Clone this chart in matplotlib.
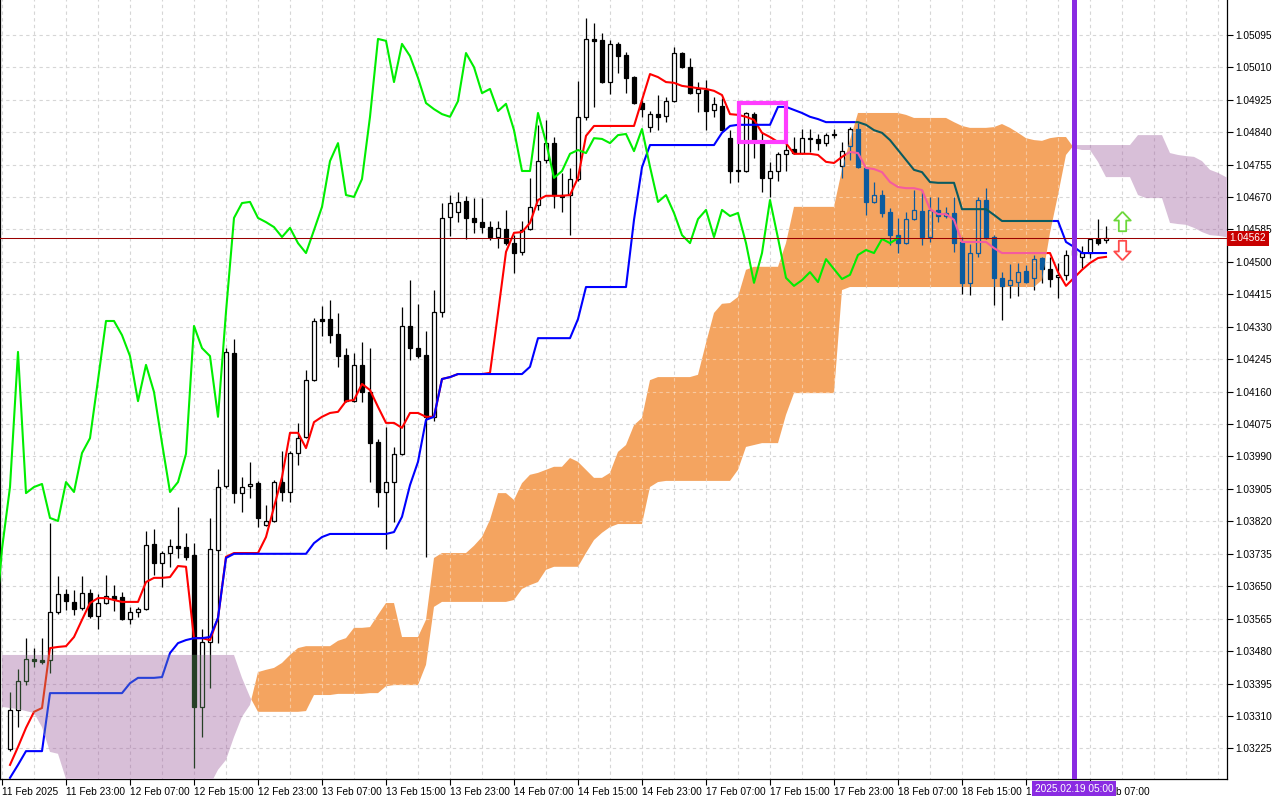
import numpy as np
import matplotlib.pyplot as plt
from matplotlib.path import Path
from matplotlib.patches import PathPatch, Rectangle
from matplotlib.transforms import blended_transform_factory

plt.rcParams['font.family'] = ['Liberation Sans', 'DejaVu Sans']

# hourly bars, bar 0 = 11 Feb 2025 15:00 (weekend gap closed)
first_bar = 1
opens = [1.03224, 1.03326, 1.03402, 1.03459, 1.03457, 1.03457, 1.03583, 1.03630, 1.03609, 1.03593,
         1.03632, 1.03572, 1.03606, 1.03625, 1.03622, 1.03564, 1.03583, 1.03590, 1.03761, 1.03711,
         1.03737, 1.03756, 1.03753, 1.03732, 1.03334, 1.03504, 1.03745, 1.03913, 1.04261, 1.03894,
         1.03913, 1.03921, 1.03811, 1.03821, 1.03923, 1.03897, 1.03999, 1.04041, 1.04190, 1.04350,
         1.04350, 1.04311, 1.04256, 1.04135, 1.04230, 1.04159, 1.04028, 1.03897, 1.03923, 1.03997,
         1.04332, 1.04274, 1.04256, 1.04094, 1.04369, 1.04618, 1.04631, 1.04659, 1.04615, 1.04604,
         1.04591, 1.04565, 1.04586, 1.04549, 1.04526, 1.04586, 1.04649, 1.04767, 1.04811, 1.04675,
         1.04675, 1.04717, 1.04880, 1.05084, 1.05081, 1.04971, 1.05071, 1.05042, 1.04984, 1.04916,
         1.04853, 1.04887, 1.04882, 1.04921, 1.05047, 1.05010, 1.04942, 1.04950, 1.04898, 1.04908,
         1.04824, 1.04741, 1.04738, 1.04887, 1.04814, 1.04720, 1.04738, 1.04783, 1.04796, 1.04785,
         1.04824, 1.04822, 1.04811, 1.04833, 1.04751, 1.04804, 1.04848, 1.04746, 1.04657, 1.04675,
         1.04631, 1.04570, 1.04549, 1.04612, 1.04633, 1.04565, 1.04636, 1.04620, 1.04628, 1.04552,
         1.04445, 1.04523, 1.04662, 1.04565, 1.04458, 1.04439, 1.04447, 1.04476, 1.04458, 1.04510,
         1.04481, 1.04460, 1.04466, 1.04518, 1.04513, 1.04523, 1.04560, 1.04557]
highs = [1.03373, 1.03433, 1.03514, 1.03488, 1.03514, 1.03816, 1.03677, 1.03643, 1.03640, 1.03677,
         1.03643, 1.03630, 1.03680, 1.03653, 1.03635, 1.03596, 1.03596, 1.03795, 1.03800, 1.03742,
         1.03774, 1.03858, 1.03790, 1.03763, 1.03538, 1.03829, 1.03957, 1.04274, 1.04298, 1.03936,
         1.03976, 1.03926, 1.03863, 1.03928, 1.04004, 1.04004, 1.04078, 1.04217, 1.04353, 1.04384,
         1.04400, 1.04366, 1.04274, 1.04261, 1.04290, 1.04274, 1.04036, 1.04067, 1.04015, 1.04382,
         1.04452, 1.04390, 1.04319, 1.04426, 1.04654, 1.04675, 1.04683, 1.04673, 1.04667, 1.04667,
         1.04607, 1.04607, 1.04636, 1.04570, 1.04607, 1.04720, 1.04859, 1.04872, 1.04827, 1.04733,
         1.04746, 1.04974, 1.05139, 1.05126, 1.05100, 1.05081, 1.05076, 1.05050, 1.04987, 1.04924,
         1.04895, 1.04937, 1.04932, 1.05063, 1.05050, 1.05034, 1.04971, 1.04976, 1.04932, 1.04929,
         1.04845, 1.04890, 1.04893, 1.04893, 1.04840, 1.04762, 1.04788, 1.04811, 1.04827, 1.04848,
         1.04848, 1.04835, 1.04838, 1.04848, 1.04814, 1.04853, 1.04864, 1.04749, 1.04709, 1.04688,
         1.04641, 1.04615, 1.04631, 1.04688, 1.04688, 1.04670, 1.04670, 1.04644, 1.04670, 1.04565,
         1.04547, 1.04670, 1.04693, 1.04570, 1.04473, 1.04494, 1.04497, 1.04492, 1.04518, 1.04513,
         1.04513, 1.04497, 1.04531, 1.04549, 1.04542, 1.04562, 1.04612, 1.04594]
lows = [1.03218, 1.03281, 1.03391, 1.03439, 1.03446, 1.03423, 1.03577, 1.03588, 1.03575, 1.03588,
        1.03567, 1.03538, 1.03604, 1.03585, 1.03562, 1.03551, 1.03570, 1.03588, 1.03680, 1.03648,
        1.03701, 1.03724, 1.03719, 1.03174, 1.03255, 1.03383, 1.03501, 1.03907, 1.03868, 1.03845,
        1.03881, 1.03805, 1.03808, 1.03818, 1.03873, 1.03871, 1.03968, 1.04038, 1.04188, 1.04306,
        1.04287, 1.04225, 1.04133, 1.04133, 1.04133, 1.03923, 1.03858, 1.03748, 1.03818, 1.03994,
        1.04243, 1.04248, 1.03727, 1.04083, 1.04356, 1.04568, 1.04604, 1.04560, 1.04576, 1.04576,
        1.04557, 1.04536, 1.04544, 1.04471, 1.04518, 1.04583, 1.04636, 1.04759, 1.04641, 1.04631,
        1.04570, 1.04712, 1.04872, 1.04906, 1.04969, 1.04940, 1.04995, 1.04942, 1.04914, 1.04880,
        1.04840, 1.04845, 1.04866, 1.04919, 1.05008, 1.04940, 1.04893, 1.04845, 1.04880, 1.04843,
        1.04707, 1.04709, 1.04735, 1.04772, 1.04683, 1.04670, 1.04712, 1.04738, 1.04783, 1.04783,
        1.04788, 1.04793, 1.04804, 1.04824, 1.04720, 1.04767, 1.04746, 1.04623, 1.04654, 1.04618,
        1.04544, 1.04523, 1.04547, 1.04610, 1.04544, 1.04552, 1.04604, 1.04615, 1.04526, 1.04416,
        1.04413, 1.04513, 1.04560, 1.04387, 1.04348, 1.04405, 1.04411, 1.04445, 1.04426, 1.04445,
        1.04434, 1.04405, 1.04452, 1.04505, 1.04484, 1.04510, 1.04544, 1.04549]
closes = [1.03326, 1.03402, 1.03459, 1.03454, 1.03452, 1.03583, 1.03630, 1.03611, 1.03590, 1.03632,
          1.03572, 1.03606, 1.03625, 1.03617, 1.03564, 1.03583, 1.03590, 1.03758, 1.03711, 1.03737,
          1.03756, 1.03750, 1.03727, 1.03334, 1.03504, 1.03748, 1.03910, 1.04264, 1.03894, 1.03910,
          1.03918, 1.03829, 1.03821, 1.03923, 1.03897, 1.03999, 1.04038, 1.04190, 1.04345, 1.04345,
          1.04308, 1.04253, 1.04135, 1.04230, 1.04159, 1.04025, 1.03897, 1.03923, 1.03997, 1.04332,
          1.04274, 1.04253, 1.04094, 1.04369, 1.04615, 1.04654, 1.04657, 1.04615, 1.04604, 1.04591,
          1.04565, 1.04589, 1.04549, 1.04523, 1.04583, 1.04644, 1.04764, 1.04811, 1.04675, 1.04670,
          1.04717, 1.04880, 1.05084, 1.05079, 1.04971, 1.05071, 1.05039, 1.04982, 1.04916, 1.04900,
          1.04887, 1.04880, 1.04921, 1.05047, 1.05010, 1.04942, 1.04953, 1.04895, 1.04914, 1.04845,
          1.04738, 1.04738, 1.04890, 1.04814, 1.04720, 1.04738, 1.04783, 1.04793, 1.04785, 1.04824,
          1.04822, 1.04811, 1.04832, 1.04835, 1.04790, 1.04848, 1.04749, 1.04657, 1.04675, 1.04628,
          1.04570, 1.04549, 1.04612, 1.04636, 1.04565, 1.04636, 1.04620, 1.04628, 1.04549, 1.04445,
          1.04523, 1.04662, 1.04562, 1.04458, 1.04437, 1.04452, 1.04473, 1.04447, 1.04507, 1.04481,
          1.04455, 1.04466, 1.04518, 1.04531, 1.04523, 1.04560, 1.04549, 1.04562]

tenkan = [1.03182, 1.03229, 1.03279, 1.03321, 1.03331, 1.03488, 1.03491, 1.03493, 1.03517, 1.03562,
          1.03606, 1.03619, 1.03619, 1.03614, 1.03609, 1.03609, 1.03609, 1.03661, 1.03672, 1.03672,
          1.03674, 1.03703, 1.03701, 1.03514, 1.03514, 1.03509, 1.03567, 1.03727, 1.03737, 1.03737,
          1.03737, 1.03737, 1.03779, 1.03858, 1.03936, 1.04052, 1.04052, 1.04012, 1.04080, 1.04094,
          1.04104, 1.04107, 1.04135, 1.04138, 1.04180, 1.04164, 1.04120, 1.04078, 1.04078, 1.04065,
          1.04104, 1.04104, 1.04094, 1.04094, 1.04193, 1.04198, 1.04206, 1.04206, 1.04206, 1.04206,
          1.04209, 1.04366, 1.04526, 1.04576, 1.04578, 1.04602, 1.04662, 1.04673, 1.04673, 1.04673,
          1.04675, 1.04720, 1.04830, 1.04856, 1.04856, 1.04856, 1.04856, 1.04856, 1.04856, 1.04924,
          1.04992, 1.04984, 1.04971, 1.04969, 1.04961, 1.04958, 1.04955, 1.04953, 1.04948, 1.04937,
          1.04887, 1.04885, 1.04880, 1.04872, 1.04838, 1.04827, 1.04814, 1.04811, 1.04783, 1.04783,
          1.04783, 1.04780, 1.04762, 1.04759, 1.04775, 1.04788, 1.04785, 1.04746, 1.04743, 1.04735,
          1.04709, 1.04696, 1.04693, 1.04693, 1.04688, 1.04638, 1.04625, 1.04625, 1.04610, 1.04552,
          1.04552, 1.04552, 1.04552, 1.04536, 1.04523, 1.04523, 1.04523, 1.04523, 1.04523, 1.04523,
          1.04523, 1.04473, 1.04437, 1.04458, 1.04479, 1.04497, 1.04510, 1.04513]
kijun = [1.03148, 1.03182, 1.03218, 1.03218, 1.03218, 1.03370, 1.03370, 1.03370, 1.03370, 1.03370,
         1.03370, 1.03370, 1.03370, 1.03370, 1.03370, 1.03396, 1.03410, 1.03410, 1.03410, 1.03412,
         1.03475, 1.03501, 1.03509, 1.03514, 1.03514, 1.03517, 1.03567, 1.03724, 1.03735, 1.03735,
         1.03735, 1.03735, 1.03735, 1.03735, 1.03735, 1.03735, 1.03735, 1.03735, 1.03763, 1.03779,
         1.03787, 1.03787, 1.03787, 1.03787, 1.03787, 1.03787, 1.03787, 1.03787, 1.03792, 1.03832,
         1.03915, 1.03976, 1.04086, 1.04094, 1.04193, 1.04198, 1.04206, 1.04206, 1.04206, 1.04206,
         1.04206, 1.04206, 1.04206, 1.04206, 1.04206, 1.04225, 1.04300, 1.04300, 1.04300, 1.04300,
         1.04300, 1.04350, 1.04434, 1.04434, 1.04434, 1.04434, 1.04434, 1.04434, 1.04610, 1.04748,
         1.04806, 1.04806, 1.04806, 1.04806, 1.04806, 1.04806, 1.04806, 1.04806, 1.04806, 1.04838,
         1.04856, 1.04859, 1.04859, 1.04859, 1.04859, 1.04859, 1.04906, 1.04906, 1.04898, 1.04890,
         1.04880, 1.04874, 1.04866, 1.04866, 1.04866, 1.04866, 1.04866, 1.04859, 1.04845, 1.04838,
         1.04819, 1.04793, 1.04767, 1.04741, 1.04735, 1.04709, 1.04707, 1.04707, 1.04707, 1.04638,
         1.04638, 1.04638, 1.04638, 1.04623, 1.04607, 1.04607, 1.04607, 1.04607, 1.04607, 1.04607,
         1.04607, 1.04607, 1.04552, 1.04539, 1.04523, 1.04523, 1.04523, 1.04523]

# senkou spans as displayed (already shifted 26 bars ahead), bars 0..154
span_a = [1.03334, 1.03331, 1.03328, 1.03323, 1.03318, 1.03281, 1.03216, 1.03211, 1.03145, 1.03116,
          1.03090, 1.03090, 1.03090, 1.03090, 1.03090, 1.03090, 1.03090, 1.03090, 1.03090, 1.03090,
          1.03090, 1.03090, 1.03090, 1.03090, 1.03090, 1.03103, 1.03129, 1.03169, 1.03195, 1.03255,
          1.03308, 1.03339, 1.03425, 1.03431, 1.03436, 1.03449, 1.03470, 1.03488, 1.03493, 1.03493,
          1.03493, 1.03493, 1.03507, 1.03514, 1.03541, 1.03541, 1.03543, 1.03575, 1.03606, 1.03606,
          1.03517, 1.03517, 1.03517, 1.03562, 1.03724, 1.03737, 1.03737, 1.03737, 1.03737, 1.03756,
          1.03779, 1.03824, 1.03894, 1.03894, 1.03876, 1.03920, 1.03942, 1.03947, 1.03955, 1.03963,
          1.03963, 1.03986, 1.03976, 1.03955, 1.03934, 1.03934, 1.03947, 1.04002, 1.04020, 1.04072,
          1.04091, 1.04190, 1.04198, 1.04198, 1.04198, 1.04198, 1.04198, 1.04204, 1.04287, 1.04366,
          1.04390, 1.04392, 1.04408, 1.04479, 1.04487, 1.04487, 1.04487, 1.04487, 1.04549, 1.04644,
          1.04644, 1.04644, 1.04644, 1.04644, 1.04644, 1.04741, 1.04819, 1.04890, 1.04890, 1.04890,
          1.04890, 1.04890, 1.04890, 1.04885, 1.04877, 1.04877, 1.04877, 1.04877, 1.04877, 1.04866,
          1.04856, 1.04851, 1.04851, 1.04851, 1.04853, 1.04861, 1.04851, 1.04838, 1.04824, 1.04819,
          1.04817, 1.04824, 1.04827, 1.04827, 1.04798, 1.04793, 1.04793, 1.04762, 1.04722, 1.04722,
          1.04722, 1.04722, 1.04675, 1.04667, 1.04667, 1.04667, 1.04602, 1.04599, 1.04597, 1.04589,
          1.04578, 1.04570, 1.04568, 1.04565, 1.04562]
span_b = [1.03470, 1.03470, 1.03470, 1.03470, 1.03470, 1.03470, 1.03470, 1.03470, 1.03470, 1.03470,
          1.03470, 1.03470, 1.03470, 1.03470, 1.03470, 1.03470, 1.03470, 1.03470, 1.03470, 1.03470,
          1.03470, 1.03470, 1.03470, 1.03470, 1.03470, 1.03470, 1.03470, 1.03470, 1.03470, 1.03470,
          1.03410, 1.03360, 1.03321, 1.03321, 1.03321, 1.03321, 1.03321, 1.03321, 1.03323, 1.03365,
          1.03365, 1.03365, 1.03368, 1.03368, 1.03368, 1.03368, 1.03370, 1.03370, 1.03388, 1.03391,
          1.03391, 1.03391, 1.03391, 1.03444, 1.03596, 1.03609, 1.03609, 1.03609, 1.03609, 1.03609,
          1.03609, 1.03609, 1.03609, 1.03609, 1.03614, 1.03643, 1.03653, 1.03661, 1.03693, 1.03701,
          1.03701, 1.03701, 1.03701, 1.03737, 1.03771, 1.03790, 1.03805, 1.03813, 1.03813, 1.03813,
          1.03813, 1.03910, 1.03923, 1.03926, 1.03926, 1.03926, 1.03926, 1.03926, 1.03926, 1.03926,
          1.03926, 1.03926, 1.03955, 1.04015, 1.04020, 1.04025, 1.04025, 1.04025, 1.04099, 1.04156,
          1.04156, 1.04156, 1.04156, 1.04156, 1.04156, 1.04426, 1.04434, 1.04434, 1.04434, 1.04434,
          1.04434, 1.04434, 1.04434, 1.04434, 1.04434, 1.04434, 1.04434, 1.04434, 1.04434, 1.04434,
          1.04434, 1.04434, 1.04434, 1.04434, 1.04434, 1.04434, 1.04434, 1.04434, 1.04434, 1.04434,
          1.04452, 1.04576, 1.04675, 1.04780, 1.04806, 1.04806, 1.04806, 1.04806, 1.04806, 1.04806,
          1.04806, 1.04806, 1.04832, 1.04832, 1.04832, 1.04832, 1.04785, 1.04780, 1.04777, 1.04775,
          1.04764, 1.04741, 1.04733, 1.04722, 1.04720]

tick_labels = ['11 Feb 2025', '11 Feb 23:00', '12 Feb 07:00', '12 Feb 15:00', '12 Feb 23:00',
               '13 Feb 07:00', '13 Feb 15:00', '13 Feb 23:00', '14 Feb 07:00', '14 Feb 15:00',
               '14 Feb 23:00', '17 Feb 07:00', '17 Feb 15:00', '17 Feb 23:00', '18 Feb 07:00',
               '18 Feb 15:00', '18 Feb 23:00', '19 Feb 07:00']
price_ticks = [1.03225 + 0.00085 * i for i in range(23)]

last_price = 1.04562
vline_bar = 134
vline_label = '2025.02.19 05:00'
box_bars = (92.1, 98.0)
box_prices = (1.04814, 1.04916)
arrow_bar = 140
arrow_up_price = 1.04606
arrow_dn_price = 1.04530

ORANGE = '#f4a460'
THISTLE = '#d8bfd8'
FS = 7.3

o = np.array(opens)
h = np.array(highs)
l = np.array(lows)
c = np.array(closes)
bars = np.arange(first_bar, first_bar + len(o))
a = np.array(span_a)
b = np.array(span_b)
cloud_bars = np.arange(len(a))

fig = plt.figure(figsize=(12.8, 8), dpi=100)
ax = fig.add_axes([0, 21 / 800, 1227 / 1280, 779 / 800])
ax.set_xlim(-0.25, 153.125)
ax.set_ylim(1.03145, 1.05186)


def draw_candles(edge, up_face, dn_face, z, clip=None):
    top = np.maximum(o, c)
    bot = np.minimum(o, c)
    arts = [ax.vlines(bars, top, h, colors=edge, lw=0.9, zorder=z),
            ax.vlines(bars, l, bot, colors=edge, lw=0.9, zorder=z)]
    for x, lo, hi, up in zip(bars, bot, top, c >= o):
        r = Rectangle((x - 0.31, lo), 0.62, max(hi - lo, 0.00001),
                      facecolor=up_face if up else dn_face, edgecolor=edge,
                      lw=0.9, zorder=z + 0.1)
        ax.add_patch(r)
        arts.append(r)
    if clip is not None:
        for art in arts:
            art.set_clip_path(clip)


def draw_grid(color, z, alpha=1.0, clip=None):
    g1 = ax.hlines(price_ticks, -1, 160, colors=color, lw=0.8, linestyles=(0, (3, 3)),
                   zorder=z, alpha=alpha)
    g2 = ax.vlines(np.arange(0, 156, 4), 1.0, 1.1, colors=color, lw=0.8,
                   linestyles=(0, (3, 3)), zorder=z, alpha=alpha)
    if clip is not None:
        g1.set_clip_path(clip)
        g2.set_clip_path(clip)


# base layer
draw_grid('#d6d6d6', 0.5)
draw_candles('black', 'white', 'black', 2)
ax.plot(bars, tenkan, color='#ff0000', lw=1.5, zorder=3)
ax.plot(bars, kijun, color='#0000ff', lw=1.5, zorder=3.1)

# kumo
bull = ax.fill_between(cloud_bars, a, b, where=a >= b, interpolate=True,
                       facecolor=ORANGE, edgecolor='none', lw=0, zorder=4)
bear = ax.fill_between(cloud_bars, a, b, where=b > a, interpolate=True,
                       facecolor=THISTLE, edgecolor='none', lw=0, zorder=4)


def clip_of(coll):
    return PathPatch(Path.make_compound_path(*coll.get_paths()), transform=ax.transData)


# what shows through the cloud (the terminal paints the cloud in xor mode)
for coll, ink, red_x, blue_x, gcol, galpha in [
        (bull, '#0b5b9f', '#f45b9f', '#0b5b60', 'white', 0.4),
        (bear, '#274027', '#d84027', '#2740d8', '#8a6a8a', 0.3)]:
    draw_grid(gcol, 4.1, galpha, clip_of(coll))
    draw_candles(ink, 'none', ink, 4.2, clip_of(coll))
    ln1, = ax.plot(bars, tenkan, color=red_x, lw=1.5, zorder=4.5)
    ln1.set_clip_path(clip_of(coll))
    ln2, = ax.plot(bars, kijun, color=blue_x, lw=1.5, zorder=4.6)
    ln2.set_clip_path(clip_of(coll))

# chikou span: close plotted 26 bars back
ax.plot(bars[24:] - 26, c[24:], color='#00ee00', lw=1.5, zorder=5)

ax.axhline(last_price, color='#9a0000', lw=0.75, zorder=5.5)
ax.axvline(vline_bar, color='#8a2be2', lw=3.6, zorder=6)
ax.add_patch(Rectangle((box_bars[0], box_prices[0]), box_bars[1] - box_bars[0],
                       box_prices[1] - box_prices[0], fill=False, edgecolor='#ff3cff',
                       lw=3, zorder=7))

up_arrow = [(0, 1), (0.85, 0.1), (0.38, 0.1), (0.38, -1), (-0.38, -1), (-0.38, 0.1),
            (-0.85, 0.1), (0, 1)]
dn_arrow = [(x, -y) for x, y in up_arrow]
ax.plot([arrow_bar], [arrow_up_price], marker=up_arrow, ms=14, mfc='white',
        mec='#6cd83a', mew=1.3, zorder=7)
ax.plot([arrow_bar], [arrow_dn_price], marker=dn_arrow, ms=14, mfc='white',
        mec='#ff4a4a', mew=1.3, zorder=7)

# axes decoration
for side in ['left', 'right', 'bottom']:
    ax.spines[side].set_color('black')
    ax.spines[side].set_linewidth(0.9)
ax.spines['top'].set_visible(False)

ax.yaxis.tick_right()
ax.set_yticks(price_ticks)
ax.set_yticklabels(['%.5f' % p for p in price_ticks])
ax.tick_params(axis='y', length=4, width=0.8, pad=2, labelsize=FS, colors='black')

ax.set_xticks(np.arange(0, 8 * len(tick_labels), 8))
ax.set_xticklabels(tick_labels)
for lbl in ax.get_xticklabels():
    lbl.set_horizontalalignment('left')
ax.tick_params(axis='x', length=4, width=0.8, pad=1.5, labelsize=FS, colors='black')

ax.text(1.0022, last_price, '%.5f' % last_price,
        transform=blended_transform_factory(ax.transAxes, ax.transData),
        ha='left', va='center', fontsize=FS, color='white', zorder=10, clip_on=False,
        bbox=dict(boxstyle='square,pad=0.25', fc='#c80000', ec='none'))
# the time marker's label sits over the axis labels, as in the terminal
ax.text(vline_bar, -0.0125, vline_label,
        transform=blended_transform_factory(ax.transData, ax.transAxes),
        ha='center', va='center', fontsize=FS, color='white', zorder=10, clip_on=False,
        bbox=dict(boxstyle='square,pad=0.25', fc='#8a2be2', ec='none'))

fig.savefig('out.png', dpi=100)
